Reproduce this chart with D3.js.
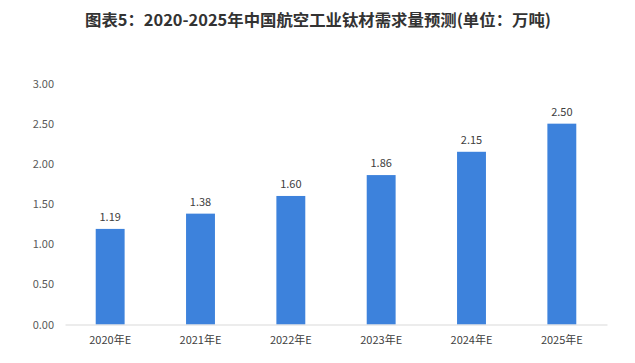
<!DOCTYPE html>
<html><head><meta charset="utf-8">
<script src="https://cdn.jsdelivr.net/npm/d3@7"></script>
<style>body{margin:0;background:#fff;}svg{display:block;}</style>
</head><body>
<svg id="c" width="635" height="363"></svg>
<script>
const title = "图表5：2020-2025年中国航空工业钛材需求量预测(单位：万吨)";
const categories = ["2020年E","2021年E","2022年E","2023年E","2024年E","2025年E"];
const values = [1.19, 1.38, 1.60, 1.86, 2.15, 2.50];
const yTicks = [0, 0.5, 1.0, 1.5, 2.0, 2.5, 3.0];

const svg = d3.select("#c");
const font = "'Microsoft YaHei','Noto Sans CJK SC','Noto Sans',sans-serif";
const x = d3.scaleBand().domain(categories).range([65, 607]).paddingInner(0.68).paddingOuter(0.34);
const y = d3.scaleLinear().domain([0, 3]).range([324.5, 83.5]);

svg.append("text").attr("x", 318).attr("y", 26).attr("text-anchor", "middle")
  .attr("font-family", font).attr("font-weight", "bold").attr("font-size", 16)
  .attr("fill", "#333").attr("textLength", 466).attr("lengthAdjust", "spacingAndGlyphs").text(title);

const yAxis = svg.append("g").attr("transform", "translate(65,0)")
  .call(d3.axisLeft(y).tickValues(yTicks).tickFormat(d3.format(".2f")).tickSize(0).tickPadding(11));
yAxis.select(".domain").remove();
yAxis.selectAll("text").attr("font-family", font).attr("font-size", 11).attr("fill", "#595959");

svg.selectAll("rect.bar").data(values).enter().append("rect").attr("class", "bar")
  .attr("x", (d, i) => x(categories[i])).attr("width", x.bandwidth())
  .attr("y", d => y(d)).attr("height", d => y(0) - y(d)).attr("fill", "#3D82DC");

const xAxis = svg.append("g").attr("transform", "translate(0," + y(0) + ")")
  .call(d3.axisBottom(x).tickSize(0).tickPadding(12));
xAxis.select(".domain").attr("stroke", "#d9d9d9");
xAxis.selectAll("text").attr("font-family", font).attr("font-size", 11).attr("fill", "#404040");

svg.selectAll("text.val").data(values).enter().append("text").attr("class", "val")
  .attr("x", (d, i) => x(categories[i]) + x.bandwidth() / 2).attr("y", d => y(d) - 8)
  .attr("text-anchor", "middle").attr("font-family", font).attr("font-size", 11).attr("fill", "#404040")
  .text(d => d3.format(".2f")(d));
</script>
</body></html>
